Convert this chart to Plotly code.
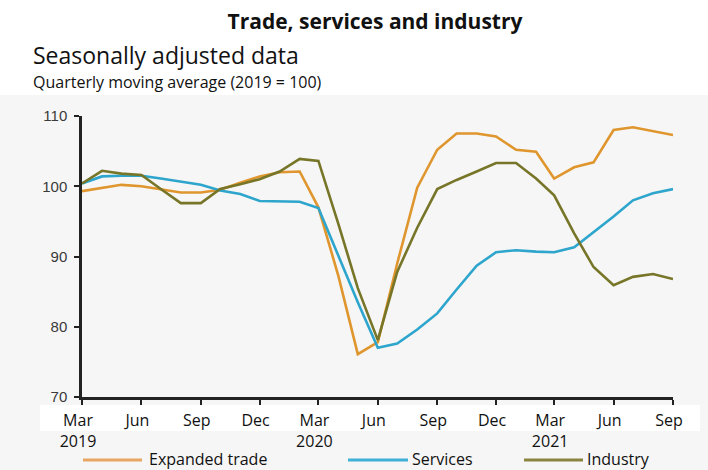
import pandas as pd
import plotly.graph_objects as go

# Monthly observations, Mar 2019 - Sep 2021 (index, 2019 = 100)
months = pd.date_range("2019-03-01", "2021-09-01", freq="MS")

expanded_trade = [99.3, 99.8, 100.2, 100.0, 99.6, 99.1, 99.1, 99.5, 100.5, 101.4,
                  102.0, 102.1, 97.0, 87.2, 76.1, 77.8, 89.0, 99.8, 105.2, 107.5,
                  107.5, 107.1, 105.2, 104.9, 101.1, 102.7, 103.4, 108.0, 108.4, 107.9,
                  107.3]
services = [100.4, 101.4, 101.5, 101.5, 101.1, 100.6, 100.2, 99.4, 98.9, 97.9,
            97.9, 97.8, 96.9, 90.0, 83.5, 77.0, 77.6, 79.6, 81.9, 85.3,
            88.7, 90.6, 90.9, 90.7, 90.6, 91.3, 93.4, 95.7, 98.0, 99.0,
            99.6]
industry = [100.4, 102.2, 101.8, 101.6, 99.6, 97.6, 97.6, 99.6, 100.3, 101.0,
            102.1, 103.9, 103.6, 94.6, 85.5, 78.1, 87.8, 94.1, 99.6, 100.9,
            102.1, 103.3, 103.3, 101.1, 98.7, 93.3, 88.5, 85.9, 87.1, 87.5,
            86.8]

series_names = ["Expanded trade", "Services", "Industry"]
series_values = [expanded_trade, services, industry]
series_colors = ["#E0962E", "#2DA5CC", "#777528"]
legend_colors = ["#E8A663", "#3FB0D6", "#8A8440"]

tick_dates = pd.date_range("2019-03-01", "2021-09-01", freq="3MS")
tick_labels = ["Mar<br>2019", "Jun", "Sep", "Dec", "Mar<br>2020", "Jun", "Sep",
               "Dec", "Mar<br>2021", "Jun", "Sep"]

W, H = 708, 470
L, R, T, B = 82, 35, 116, 73
PW, PH = W - L - R, H - T - B


def px_x(px):
    return (px - L) / PW


def px_y(py):
    return (H - B - py) / PH


text_font = "'Open Sans', sans-serif"

fig = go.Figure()
for name, vals, col in zip(series_names, series_values, series_colors):
    fig.add_trace(go.Scatter(
        x=months, y=vals, mode="lines", name=name,
        line=dict(color=col, width=2.6), showlegend=False,
    ))

shapes = [
    # faint grey backdrop behind the chart body
    dict(type="rect", xref="paper", yref="paper", x0=px_x(0), x1=px_x(W),
         y0=px_y(H), y1=px_y(95), fillcolor="#f6f6f6", line_width=0, layer="below"),
    dict(type="rect", xref="paper", yref="paper", x0=px_x(40), x1=px_x(700),
         y0=px_y(431), y1=px_y(405), fillcolor="#ffffff", line_width=0, layer="below"),
]
annotations = [
    dict(text="Seasonally adjusted data", xref="paper", yref="paper",
         x=px_x(31), y=px_y(55), xanchor="left", yanchor="middle", showarrow=False,
         font=dict(family=text_font, size=23, color="#111")),
    dict(text="Quarterly moving average (2019 = 100)", xref="paper", yref="paper",
         x=px_x(31), y=px_y(82), xanchor="left", yanchor="middle", showarrow=False,
         font=dict(family=text_font, size=16, color="#111")),
]

# legend row along the bottom edge
legend_pos = [(83, 142, 147), (348, 408, 410), (524, 583, 585)]
for name, col, (x0, x1, xt) in zip(series_names, legend_colors, legend_pos):
    shapes.append(dict(type="line", xref="paper", yref="paper",
                       x0=px_x(x0), x1=px_x(x1), y0=px_y(460), y1=px_y(460),
                       line=dict(color=col, width=3)))
    annotations.append(dict(text=name, xref="paper", yref="paper",
                            x=px_x(xt), y=px_y(459), xanchor="left", yanchor="middle",
                            showarrow=False,
                            font=dict(family=text_font, size=16, color="#111")))

fig.update_layout(
    width=W, height=H,
    margin=dict(l=L, r=R, t=T, b=B, pad=0),
    paper_bgcolor="#ffffff", plot_bgcolor="rgba(0,0,0,0)",
    title=dict(text="<b>Trade, services and industry</b>", x=px_x(375), xref="paper",
               xanchor="center", y=1 - 22 / H, yref="container", yanchor="middle",
               font=dict(family=text_font, size=21, color="#111")),
    shapes=shapes, annotations=annotations,
    showlegend=False,
)
fig.update_xaxes(
    range=[months[0], months[-1]], tickvals=tick_dates, ticktext=tick_labels,
    showgrid=False, zeroline=False, showline=True, linecolor="#222", linewidth=2.5,
    ticks="outside", ticklen=5, tickwidth=2, tickcolor="#222",
    ticklabelshift=-4, ticklabelstandoff=2,
    tickfont=dict(family=text_font, size=16, color="#111"),
)
fig.update_yaxes(
    range=[70, 110], tickvals=[70, 80, 90, 100, 110],
    showgrid=False, zeroline=False, showline=True, linecolor="#222", linewidth=2.5,
    ticks="outside", ticklen=5, tickwidth=2, tickcolor="#222",
    ticklabelstandoff=4,
    tickfont=dict(family="'Liberation Sans', Arial, sans-serif", size=15, color="#3a3a3a"),
)

fig.write_html("out.html")
